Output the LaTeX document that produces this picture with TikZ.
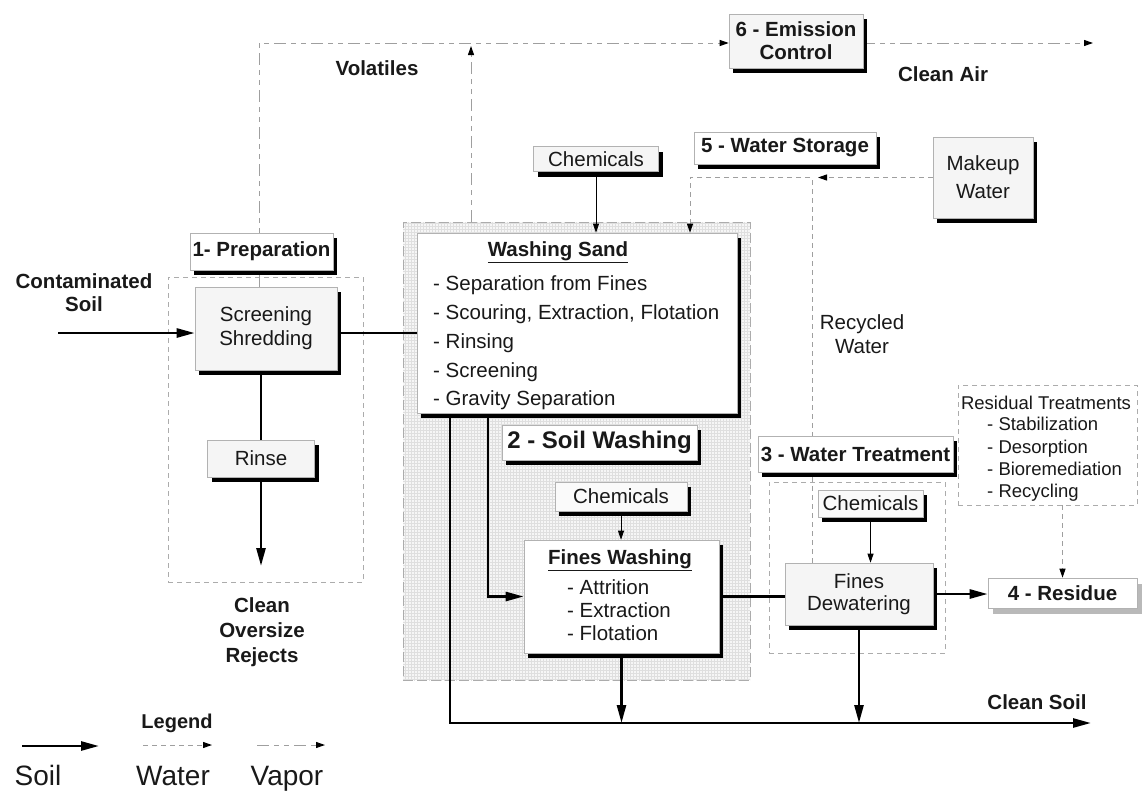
\documentclass[tikz,border=0pt]{standalone}
\usepackage{fontspec}
\setmainfont{Liberation Sans}
\usetikzlibrary{arrows.meta,shadows,patterns,calc}
\pgfdeclarelayer{bg}
\pgfdeclarelayer{mid}
\pgfsetlayers{bg,mid,main}
\begin{document}
\begin{tikzpicture}[x=1pt,y=-1pt,
  txt/.style={inner sep=0pt, text=black!90},
  bfont/.style={txt, font=\fontsize{20.5}{24}\selectfont\bfseries},
  rfont/.style={txt, font=\fontsize{20.5}{24}\selectfont},
  sfont/.style={txt, font=\fontsize{18.5}{22}\selectfont},
  item/.style={rfont, anchor=base west},
  sitem/.style={sfont, anchor=base west},
  sbox/.style={draw=gray!60, line width=0.6pt, fill=#1, inner sep=0pt,
    general shadow={fill=black, shadow xshift=4pt, shadow yshift=-5pt}},
  sbox/.default=white,
  gbox/.style={draw=gray!60, line width=0.6pt, fill=white, inner sep=0pt,
    general shadow={fill=gray!55, shadow xshift=5pt, shadow yshift=-6pt}},
  soil/.style={line width=2.6pt, black},
  soiltip/.style={-{Triangle[length=18pt,width=9pt]}},
  water/.style={draw=gray!75, line width=1pt, dash pattern=on 5pt off 4pt},
  vapor/.style={draw=gray!75, line width=1pt, dash pattern=on 12pt off 5pt on 5pt off 5pt on 5pt off 5pt},
  thinline/.style={line width=0.8pt, black},
  smalltip/.style={-{Triangle[length=9pt,width=6pt,color=black]}},
  regbox/.style={draw=gray!65, line width=0.8pt, dash pattern=on 5pt off 4pt, inner sep=0pt}
]
\useasboundingbox (0,0) rectangle (1142,790);

% ---------- background regions ----------
\begin{pgfonlayer}{bg}
\node[regbox, minimum width=195pt, minimum height=305pt] (prepreg) at (265.5,429.5) {};
\node[draw=gray!65, line width=0.8pt, dash pattern=on 10pt off 4pt, inner sep=0pt,
      preaction={fill=gray!7}, pattern=grid, pattern color=gray!25,
      minimum width=347pt, minimum height=458pt] (swreg) at (576.5,451) {};
\node[regbox, minimum width=176pt, minimum height=171pt] (wtreg) at (857,567.5) {};
\node[regbox, fill=white, minimum width=179pt, minimum height=120pt] (rt) at (1047.5,445) {};
\end{pgfonlayer}

% ---------- nodes ----------
\node[sbox, bfont, minimum width=143pt, minimum height=37pt] (prep) at (261.5,251.5) {1- Preparation};
\node[sbox=gray!8, rfont, align=center, minimum width=142pt, minimum height=83pt] (scr) at (266,328.5) {Screening\\Shredding};
\node[sbox=gray!8, rfont, minimum width=107pt, minimum height=37pt] (rinse) at (261,458.5) {Rinse};
\node[bfont, align=center, font=\fontsize{20.5}{23}\selectfont\bfseries] (cont) at (84,293) {Contaminated\\Soil};
\node[bfont, align=center, font=\fontsize{20.5}{25}\selectfont\bfseries] (rej) at (262,632) {Clean\\Oversize\\Rejects};

\node[sbox, minimum width=320pt, minimum height=180pt] (ws) at (577,323) {};
\node[bfont, anchor=base] (wst) at (558,256) {\underline{Washing Sand}};
\node[item] (ws1) at (433,290) {- Separation from Fines};
\node[item] (ws2) at (433,319) {- Scouring, Extraction, Flotation};
\node[item] (ws3) at (433,348) {- Rinsing};
\node[item] (ws4) at (433,377) {- Screening};
\node[item] (ws5) at (433,405) {- Gravity Separation};

\node[sbox, txt, font=\fontsize{24}{28}\selectfont\bfseries, minimum width=195pt, minimum height=35pt] (sw) at (599.5,442.5) {2 - Soil Washing};
\node[sbox=gray!4, rfont, minimum width=132pt, minimum height=29pt] (chem2) at (621,496.5) {Chemicals};
\node[sbox, minimum width=195pt, minimum height=113pt] (fw) at (621.5,596.5) {};
\node[bfont, anchor=base] (fwt) at (620,564) {\underline{Fines Washing}};
\node[item] (fw1) at (567,594) {- Attrition};
\node[item] (fw2) at (567,617) {- Extraction};
\node[item] (fw3) at (567,640) {- Flotation};

\node[sbox=gray!8, rfont, minimum width=125pt, minimum height=25pt] (chem1) at (596,159) {Chemicals};
\node[sbox, bfont, minimum width=182pt, minimum height=32pt] (stor) at (785,148) {5 - Water Storage};
\node[sbox=gray!8, bfont, align=center, font=\fontsize{20.5}{23}\selectfont\bfseries, minimum width=134pt, minimum height=54pt] (emis) at (796,41) {6 - Emission\\Control};
\node[bfont] (air) at (943,74) {Clean Air};
\node[bfont] (vol) at (377,68) {Volatiles};
\node[sbox=gray!8, rfont, align=center, font=\fontsize{20.5}{28}\selectfont, minimum width=100pt, minimum height=81pt] (mk) at (983,177.5) {Makeup\\Water};
\node[rfont, align=center] (recyc) at (862,334) {Recycled\\Water};

\node[sbox, bfont, minimum width=195pt, minimum height=36pt] (wt) at (855.5,454) {3 - Water Treatment};
\node[sbox=gray!4, rfont, minimum width=105pt, minimum height=27pt] (chem3) at (870.5,503.5) {Chemicals};
\node[sbox=gray!8, rfont, align=center, font=\fontsize{20.5}{22}\selectfont, minimum width=148pt, minimum height=62pt] (fdw) at (859,594) {Fines\\Dewatering};
\node[gbox, bfont, minimum width=149pt, minimum height=30pt] (res) at (1062.5,593) {4 - Residue};

\node[sfont, anchor=base] (rtt) at (1046,409) {Residual Treatments};
\node[sitem] (rt1) at (987,430) {- Stabilization};
\node[sitem] (rt2) at (987,453) {- Desorption};
\node[sitem] (rt3) at (987,475) {- Bioremediation};
\node[sitem] (rt4) at (987,497) {- Recycling};

\node[bfont] (cls) at (1037,702) {Clean Soil};

\node[bfont, font=\fontsize{20}{24}\selectfont\bfseries] (leg) at (177,723) {Legend};
\node[txt, font=\fontsize{28}{32}\selectfont, anchor=base] (lsoil) at (38,785) {Soil};
\node[txt, font=\fontsize{28}{32}\selectfont, anchor=base] (lwater) at (173,785) {Water};
\node[txt, font=\fontsize{28}{32}\selectfont, anchor=base] (lvapor) at (287,785) {Vapor};

% ---------- connectors ----------
\begin{pgfonlayer}{mid}
\coordinate (cs) at (58,333);
\draw[soil, soiltip] (cs) -- (cs -| scr.west);
\draw[soil] (scr.east |- cs) -- (cs -| ws.west);
\draw[soil] (scr.south -| rinse.north) -- (rinse.north);
\coordinate (rj) at (261,566);
\draw[soil, soiltip] (rinse.south) -- (rj);

\coordinate (v1) at (259,43);
\draw[vapor, smalltip] (v1 |- scr.north) -- (v1) -- (v1 -| emis.west);
\coordinate (v2) at (471,43);
\draw[vapor, smalltip] (v2 |- swreg.north) -- ($(v2)+(0,3)$);
\coordinate (va) at (1093,43);
\draw[vapor, smalltip] (emis.east |- v1) -- (va);

\draw[thinline, smalltip] (chem1.south) -- (chem1.south |- ws.north);

\coordinate (J) at (812,177.5);
\coordinate (wsin) at (690,177.5);
\draw[water, smalltip] (mk.west) -- ($(J)+(6,0)$);
\draw[water, smalltip] (J |- fdw.north) -- (J) -- (wsin) -- (wsin |- ws.north);

\coordinate (a1) at (450,413);
\coordinate (a2) at (488,413);
\coordinate (cl) at (1091,723);
\draw[soil, soiltip] (a2) -- (a2 |- fw.west) -- (fw.west);
\draw[soil, soiltip] (a1) -- (a1 |- cl) -- (cl);
\draw[soil, soiltip] (fw.south) -- (fw.south |- cl);
\draw[soil] (fw.east) -- (fdw.west |- fw.east);
\draw[soil, soiltip] (fdw.south) -- (fdw.south |- cl);
\draw[soil, soiltip] (fdw.east) -- (res.west |- fdw.east);
\draw[thinline, smalltip] (chem2.south) -- (chem2.south |- fw.north);
\draw[thinline, smalltip] (chem3.south) -- (chem3.south |- fdw.north);
\draw[water, smalltip] (rt.south -| res.north) -- (res.north);

% legend
\coordinate (ls1) at (22,746);  \coordinate (ls2) at (99,746);
\coordinate (lw1) at (143,745); \coordinate (lw2) at (212,745);
\coordinate (lv1) at (257,745); \coordinate (lv2) at (325,745);
\draw[soil, soiltip] (ls1) -- (ls2);
\draw[water, smalltip] (lw1) -- (lw2);
\draw[vapor, smalltip] (lv1) -- (lv2);
\end{pgfonlayer}
\end{tikzpicture}
\end{document}
